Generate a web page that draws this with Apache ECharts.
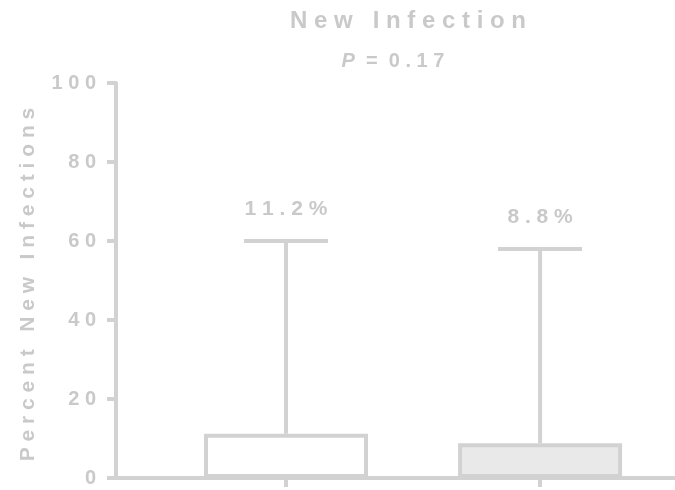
<!DOCTYPE html>
<html>
<head>
<meta charset="utf-8">
<script src="https://cdn.jsdelivr.net/npm/echarts@6/dist/echarts.min.js"></script>
<style>
  html, body { margin: 0; padding: 0; background: #ffffff; }
  #chart { width: 675px; height: 490px; }
</style>
</head>
<body>
<div id="chart"></div>
<script>
// Group positions along the x axis and their measured values
const groupIndex = [0, 1];
const barValues = [11.2, 8.8];      // percent new infections
const upperValues = [60, 58];       // top of the error bars
const yTicks = [0, 20, 40, 60, 80, 100];
const titleText = 'New Infection';
const pValue = '0.17';
const yAxisTitle = 'Percent New Infections';

// Styles
const barFills = ['#ffffff', '#e9e9e9'];
const ink = '#d2d2d2';
const textInk = '#c9c9c9';
const font = 'Arial, "Liberation Sans", Helvetica, sans-serif';

// Spread characters apart to get the wide tracking
const spaced = s => String(s).split('').join(' ');

const chart = echarts.init(document.getElementById('chart'), null, { renderer: 'canvas' });

const barData = groupIndex.map((g, i) => ({
  value: [g, barValues[i]],
  itemStyle: { color: barFills[i] }
}));
const errData = groupIndex.map((g, i) => [g, barValues[i], upperValues[i]]);

chart.setOption({
  animation: false,
  backgroundColor: '#ffffff',
  title: [
    {
      text: spaced(titleText),
      left: 403,
      top: 4,
      textAlign: 'center',
      textStyle: { color: textInk, fontFamily: font, fontWeight: 'bold', fontSize: 24 }
    },
    {
      text: '{i|P}  =  ' + spaced(pValue),
      left: 388,
      top: 46,
      textAlign: 'center',
      textStyle: {
        color: textInk, fontFamily: font, fontWeight: 'bold', fontSize: 20,
        rich: {
          i: { color: textInk, fontFamily: font, fontWeight: 'bold', fontStyle: 'italic', fontSize: 20 }
        }
      }
    }
  ],
  grid: { left: 116, right: 0, top: 83, bottom: 12, containLabel: false },
  xAxis: {
    type: 'value',
    min: -0.669,
    max: 1.531,
    axisLine: { show: true, onZero: false, lineStyle: { color: ink, width: 4 } },
    axisTick: { show: true, customValues: groupIndex, length: 9, lineStyle: { color: ink, width: 4 } },
    axisLabel: { show: false },
    splitLine: { show: false }
  },
  yAxis: {
    type: 'value',
    min: yTicks[0],
    max: yTicks[yTicks.length - 1],
    interval: yTicks[1] - yTicks[0],
    name: spaced(yAxisTitle),
    nameLocation: 'middle',
    nameRotate: 90,
    nameGap: 77,
    nameTextStyle: {
      color: textInk, fontFamily: font, fontWeight: 'bold', fontSize: 21,
      padding: [0, 8, 0, 0]
    },
    axisLine: { show: true, onZero: false, lineStyle: { color: ink, width: 4 } },
    axisTick: { show: true, length: 9, lineStyle: { color: ink, width: 4 } },
    axisLabel: {
      color: textInk, fontFamily: font, fontWeight: 'bold', fontSize: 20, margin: 20,
      formatter: v => spaced(v)
    },
    splitLine: { show: false }
  },
  series: [
    {
      type: 'bar',
      data: barData,
      barWidth: 164,
      itemStyle: { borderColor: ink, borderWidth: 4 },
      z: 2
    },
    {
      type: 'custom',
      data: errData,
      z: 3,
      renderItem: function (params, api) {
        const base = api.coord([api.value(0), api.value(1)]);
        const top = api.coord([api.value(0), api.value(2)]);
        const capHalf = 42;
        const label = spaced(api.value(1).toFixed(1) + '%');
        return {
          type: 'group',
          children: [
            {
              type: 'line',
              shape: { x1: base[0], y1: base[1], x2: top[0], y2: top[1] },
              style: { stroke: ink, lineWidth: 4 }
            },
            {
              type: 'line',
              shape: { x1: top[0] - capHalf, y1: top[1], x2: top[0] + capHalf, y2: top[1] },
              style: { stroke: ink, lineWidth: 4 }
            },
            {
              type: 'text',
              style: {
                x: top[0],
                y: top[1] - 21,
                text: label,
                textAlign: 'center',
                textVerticalAlign: 'bottom',
                fill: textInk,
                fontFamily: font,
                fontWeight: 'bold',
                fontSize: 21
              }
            }
          ]
        };
      }
    }
  ]
});
</script>
</body>
</html>
